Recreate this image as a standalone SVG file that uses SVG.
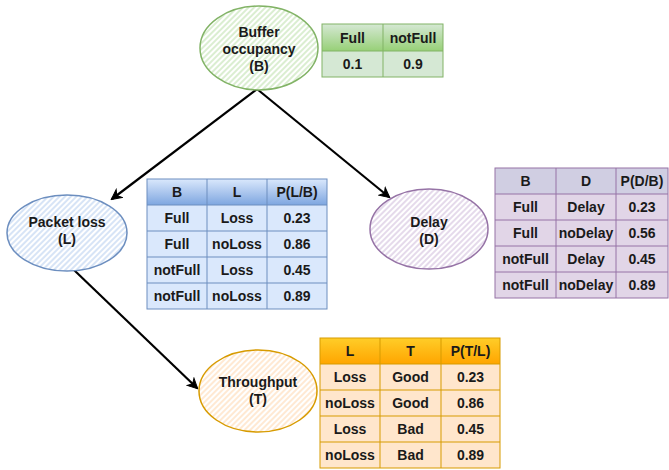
<svg xmlns="http://www.w3.org/2000/svg" width="669" height="470" viewBox="0 0 669 470">
<defs>
<style>
text{font-family:"Liberation Sans",Arial,sans-serif;font-weight:bold;font-size:14px;fill:#1a1a1a;text-anchor:middle}
.edge{stroke:#000;stroke-width:2.2;fill:none;marker-end:url(#arr)}
.gl{stroke:#82b366;stroke-width:1}
.bl{stroke:#6c8ebf;stroke-width:1}
.pl{stroke:#9673a6;stroke-width:1}
.ol{stroke:#d79b00;stroke-width:1}
</style>
<marker id="arr" viewBox="0 0 12 12" refX="10" refY="6" markerWidth="12" markerHeight="12" markerUnits="userSpaceOnUse" orient="auto">
<path d="M1,1 L11,6 L1,11 L4,6 Z" fill="#000" stroke="#000" stroke-width="1" stroke-linejoin="miter"/>
</marker>
<pattern id="hg" width="4" height="4" patternUnits="userSpaceOnUse" patternTransform="rotate(45)"><line x1="1" y1="0" x2="1" y2="4" stroke="#c2e3b2" stroke-width="1.2"/></pattern>
<pattern id="hb" width="4" height="4" patternUnits="userSpaceOnUse" patternTransform="rotate(45)"><line x1="1" y1="0" x2="1" y2="4" stroke="#bcd2f0" stroke-width="1.2"/></pattern>
<pattern id="hp" width="4" height="4" patternUnits="userSpaceOnUse" patternTransform="rotate(45)"><line x1="1" y1="0" x2="1" y2="4" stroke="#d3c1dd" stroke-width="1.2"/></pattern>
<pattern id="ho" width="4" height="4" patternUnits="userSpaceOnUse" patternTransform="rotate(45)"><line x1="1" y1="0" x2="1" y2="4" stroke="#ffdab5" stroke-width="1.2"/></pattern>
<linearGradient id="gg" x1="0" y1="0" x2="0" y2="1"><stop offset="0" stop-color="#d5e8d4"/><stop offset="1" stop-color="#97d077"/></linearGradient>
<linearGradient id="gb" x1="0" y1="0" x2="0" y2="1"><stop offset="0" stop-color="#dae8fc"/><stop offset="1" stop-color="#7ea6e0"/></linearGradient>
<linearGradient id="go" x1="0" y1="0" x2="0" y2="1"><stop offset="0" stop-color="#ffcd28"/><stop offset="1" stop-color="#ffa500"/></linearGradient>
</defs>
<rect width="669" height="470" fill="#fff"/>

<g id="connectors">
<line class="edge" x1="257" y1="89" x2="112" y2="199"/>
<line class="edge" x1="257" y1="89" x2="389" y2="197"/>
<line class="edge" x1="74" y1="270" x2="197" y2="388"/>
</g>

<g id="nodeB">
<ellipse cx="259" cy="48" rx="59" ry="42" fill="#fff"/>
<ellipse cx="259" cy="48" rx="59" ry="42" fill="url(#hg)" stroke="#82b366" stroke-width="1.5"/>
<text x="259" y="37">Buffer</text>
<text x="259" y="54">occupancy</text>
<text x="259" y="71">(B)</text>
</g>

<g id="tableB">
<rect x="322" y="24" width="121" height="27" fill="url(#gg)"/>
<rect x="322" y="51" width="121" height="26" fill="#d5e8d4"/>
<rect x="322" y="24" width="121" height="53" fill="none" class="gl"/>
<line x1="322" y1="51" x2="443" y2="51" class="gl"/>
<line x1="383" y1="24" x2="383" y2="77" class="gl"/>
<text x="352.5" y="42.5">Full</text><text x="413" y="42.5">notFull</text>
<text x="352.5" y="69">0.1</text><text x="413" y="69">0.9</text>
</g>

<g id="nodeL">
<ellipse cx="67" cy="233" rx="60" ry="38" fill="#fff"/>
<ellipse cx="67" cy="233" rx="60" ry="38" fill="url(#hb)" stroke="#6c8ebf" stroke-width="1.5"/>
<text x="67" y="227">Packet loss</text>
<text x="67" y="244">(L)</text>
</g>

<g id="tableL">
<rect x="147" y="179" width="180" height="26" fill="url(#gb)"/>
<rect x="147" y="205" width="180" height="104" fill="#dae8fc"/>
<rect x="147" y="179" width="180" height="130" fill="none" class="bl"/>
<line x1="147" y1="205" x2="327" y2="205" class="bl"/>
<line x1="147" y1="231" x2="327" y2="231" class="bl"/>
<line x1="147" y1="257" x2="327" y2="257" class="bl"/>
<line x1="147" y1="283" x2="327" y2="283" class="bl"/>
<line x1="207" y1="179" x2="207" y2="309" class="bl"/>
<line x1="267" y1="179" x2="267" y2="309" class="bl"/>
<text x="177" y="197">B</text><text x="237" y="197">L</text><text x="297" y="197">P(L/B)</text>
<text x="177" y="223">Full</text><text x="237" y="223">Loss</text><text x="297" y="223">0.23</text>
<text x="177" y="249">Full</text><text x="237" y="249">noLoss</text><text x="297" y="249">0.86</text>
<text x="177" y="275">notFull</text><text x="237" y="275">Loss</text><text x="297" y="275">0.45</text>
<text x="177" y="301">notFull</text><text x="237" y="301">noLoss</text><text x="297" y="301">0.89</text>
</g>

<g id="nodeD">
<ellipse cx="429" cy="229" rx="59" ry="40" fill="#fff"/>
<ellipse cx="429" cy="229" rx="59" ry="40" fill="url(#hp)" stroke="#9673a6" stroke-width="1.5"/>
<text x="429" y="227">Delay</text>
<text x="429" y="244">(D)</text>
</g>

<g id="tableD">
<rect x="495" y="168" width="173" height="26" fill="#d0cee2"/>
<rect x="495" y="194" width="173" height="104" fill="#e1d5e7"/>
<rect x="495" y="168" width="173" height="130" fill="none" class="pl"/>
<line x1="495" y1="194" x2="668" y2="194" class="pl"/>
<line x1="495" y1="220" x2="668" y2="220" class="pl"/>
<line x1="495" y1="246" x2="668" y2="246" class="pl"/>
<line x1="495" y1="272" x2="668" y2="272" class="pl"/>
<line x1="556" y1="168" x2="556" y2="298" class="pl"/>
<line x1="616" y1="168" x2="616" y2="298" class="pl"/>
<text x="525.5" y="186">B</text><text x="586" y="186">D</text><text x="642" y="186">P(D/B)</text>
<text x="525.5" y="212">Full</text><text x="586" y="212">Delay</text><text x="642" y="212">0.23</text>
<text x="525.5" y="238">Full</text><text x="586" y="238">noDelay</text><text x="642" y="238">0.56</text>
<text x="525.5" y="264">notFull</text><text x="586" y="264">Delay</text><text x="642" y="264">0.45</text>
<text x="525.5" y="290">notFull</text><text x="586" y="290">noDelay</text><text x="642" y="290">0.89</text>
</g>

<g id="nodeT">
<ellipse cx="258" cy="391" rx="59" ry="41" fill="#fff"/>
<ellipse cx="258" cy="391" rx="59" ry="41" fill="url(#ho)" stroke="#d79b00" stroke-width="1.5"/>
<text x="258" y="387">Throughput</text>
<text x="258" y="404">(T)</text>
</g>

<g id="tableT">
<rect x="320" y="338" width="180" height="26" fill="url(#go)"/>
<rect x="320" y="364" width="180" height="104" fill="#ffe6cc"/>
<rect x="320" y="338" width="180" height="130" fill="none" class="ol"/>
<line x1="320" y1="364" x2="500" y2="364" class="ol"/>
<line x1="320" y1="390" x2="500" y2="390" class="ol"/>
<line x1="320" y1="416" x2="500" y2="416" class="ol"/>
<line x1="320" y1="442" x2="500" y2="442" class="ol"/>
<line x1="380" y1="338" x2="380" y2="468" class="ol"/>
<line x1="441" y1="338" x2="441" y2="468" class="ol"/>
<text x="350" y="356">L</text><text x="410.5" y="356">T</text><text x="470.5" y="356">P(T/L)</text>
<text x="350" y="382">Loss</text><text x="410.5" y="382">Good</text><text x="470.5" y="382">0.23</text>
<text x="350" y="408">noLoss</text><text x="410.5" y="408">Good</text><text x="470.5" y="408">0.86</text>
<text x="350" y="434">Loss</text><text x="410.5" y="434">Bad</text><text x="470.5" y="434">0.45</text>
<text x="350" y="460">noLoss</text><text x="410.5" y="460">Bad</text><text x="470.5" y="460">0.89</text>
</g>
</svg>
